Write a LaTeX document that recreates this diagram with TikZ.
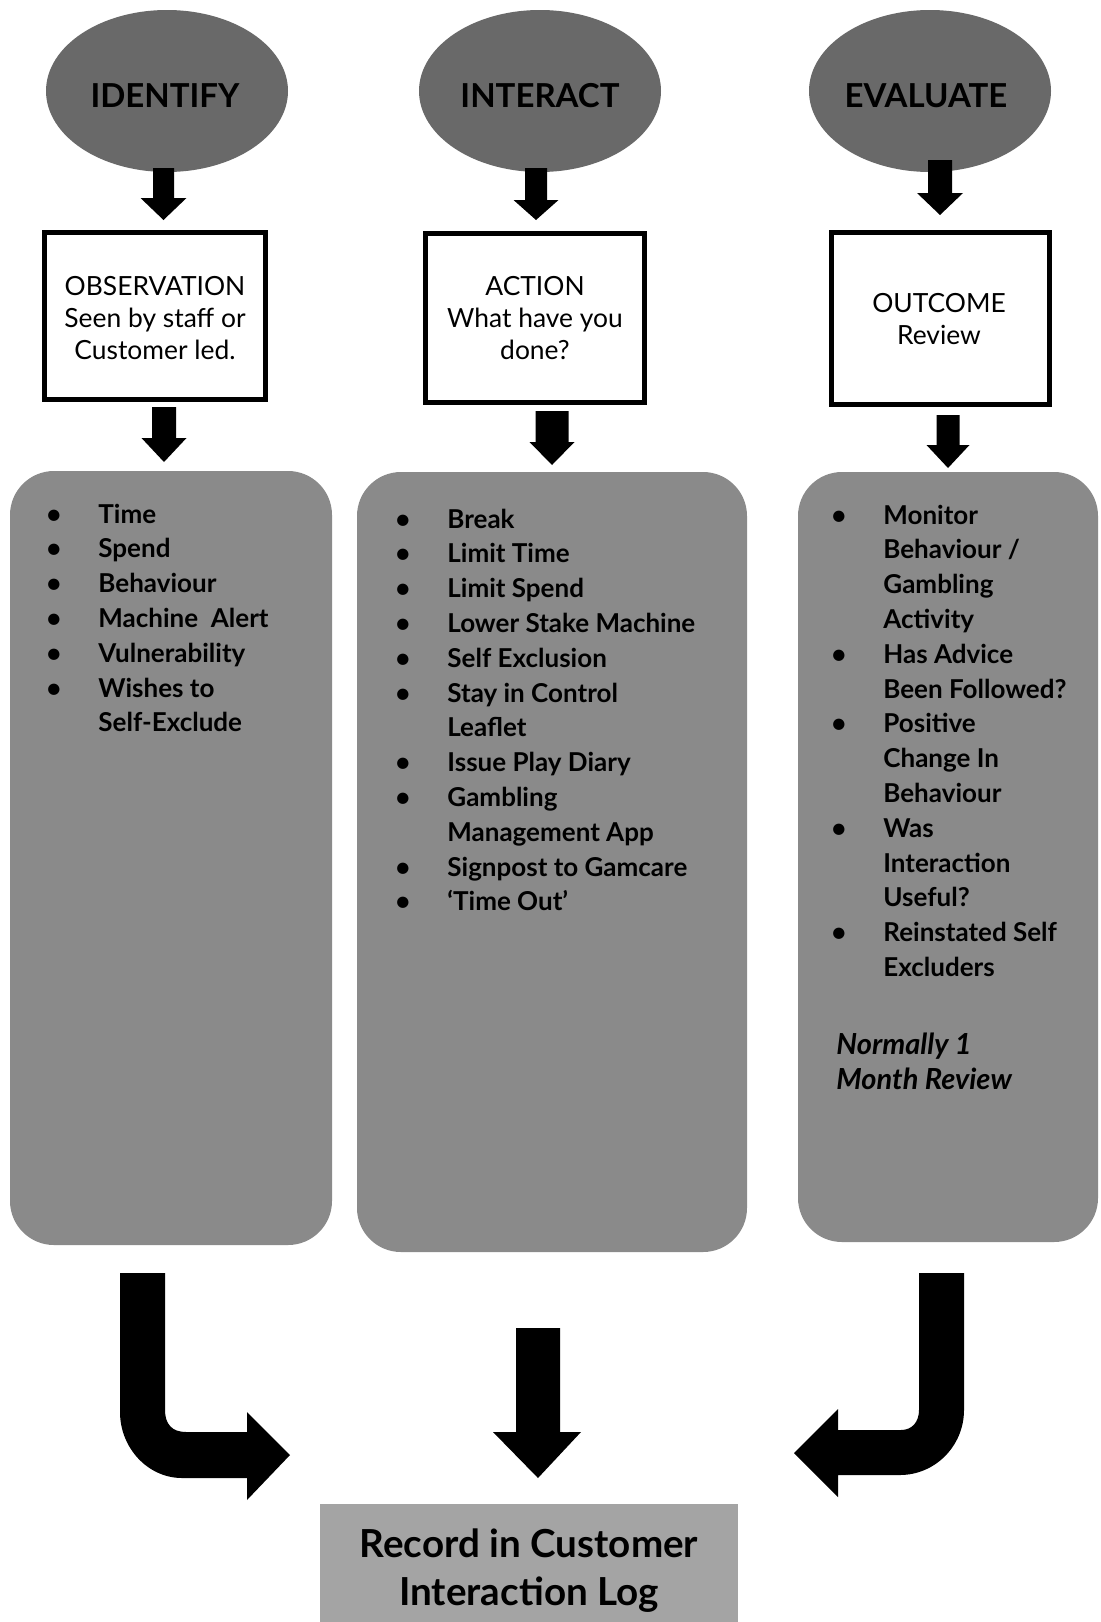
\documentclass[tikz,border=0pt]{standalone}
\usepackage{fontspec}
\setmainfont{Lato}
\usepackage{array}
\usetikzlibrary{shapes.geometric}
\definecolor{ellgray}{RGB}{105,105,105}
\definecolor{boxgray}{RGB}{138,138,138}
\definecolor{recgray}{RGB}{164,164,164}
% cx, shaft half width, head half width, y top, y head, y tip
\newcommand\blockdown[6]{%
  \fill[black] (#1-#2,#4) -- (#1+#2,#4) -- (#1+#2,#5) -- (#1+#3,#5) -- (#1,#6) -- (#1-#3,#5) -- (#1-#2,#5) -- cycle;}
\newcommand\bul{\hspace*{-3.5pt}\textbullet}
\begin{document}
\begin{tikzpicture}[x=0.5pt,y=-0.5pt,
  ellbox/.style={ellipse, fill=ellgray, inner sep=0pt, minimum width=121pt, minimum height=81pt},
  elltext/.style={anchor=base, inner sep=0pt, font=\fontsize{16.5}{20}\selectfont\bfseries},
  wbox/.style={draw=black, line width=2.5pt, fill=white, inner sep=0pt},
  wtext/.style={anchor=base, inner sep=0pt, font=\fontsize{13.2}{16}\selectfont},
  gbox/.style={fill=boxgray, rounded corners=22pt, inner sep=0pt},
  listtext/.style={anchor=base west, inner sep=0pt, font=\fontsize{13}{17.4}\selectfont\bfseries},
  rectext/.style={anchor=base, inner sep=0pt, font=\fontsize{19.3}{24}\selectfont\bfseries}
]
\useasboundingbox (0,0) rectangle (1100,1622);
\fill[white] (0,0) rectangle (1100,1622);

% ellipses
\node[ellbox] (e1) at (167,91) {};
\node[ellbox] (e2) at (540,91) {};
\node[ellbox] (e3) at (930,91) {};
\node[elltext] (t1) at (165,107) {IDENTIFY};
\node[elltext] (t2) at (540,107) {INTERACT};
\node[elltext] (t3) at (926,107) {EVALUATE};

% white boxes
\node[wbox, minimum width=110.5pt, minimum height=83.5pt] (b1) at (155,316) {};
\node[wbox, minimum width=109.5pt, minimum height=84.5pt] (b2) at (535,318) {};
\node[wbox, minimum width=109pt, minimum height=86pt] (b3) at (940.5,318.5) {};
\node[wtext] (bt1) at (155,295) {\begin{tabular}[t]{@{}c@{}}OBSERVATION\\Seen by staff or\\Customer led.\end{tabular}};
\node[wtext] (bt2) at (535,295) {\begin{tabular}[t]{@{}c@{}}ACTION\\What have you\\done?\end{tabular}};
\node[wtext] (bt3) at (939,312) {\begin{tabular}[t]{@{}c@{}}OUTCOME\\Review\end{tabular}};

% arrows top rows
\blockdown{163.5}{10.5}{23}{168}{198}{220}
\blockdown{536}{11}{22.5}{168}{200}{220}
\blockdown{940}{12}{23}{160}{193}{215}
\blockdown{164}{12}{22.5}{407}{438}{462}
\blockdown{552}{16.5}{22.5}{411}{442}{465}
\blockdown{948}{11.5}{21.5}{415}{445}{468}

% gray rounded boxes
\node[gbox, minimum width=161pt, minimum height=387pt] (g1) at (171,858) {};
\node[gbox, minimum width=195pt, minimum height=390pt] (g2) at (552,862) {};
\node[gbox, minimum width=150pt, minimum height=385pt] (g3) at (948,857) {};

\node[listtext] (l1) at (53,523) {\begin{tabular}[t]{@{}p{22.5pt}@{}l@{}}
\bul & Time\\
\bul & Spend\\
\bul & Behaviour\\
\bul & Machine\ \ Alert\\
\bul & Vulnerability\\
\bul & Wishes to\\
 & Self-Exclude
\end{tabular}};

\node[listtext] (l2) at (402,528) {\begin{tabular}[t]{@{}p{22.5pt}@{}l@{}}
\bul & Break\\
\bul & Limit Time\\
\bul & Limit Spend\\
\bul & Lower Stake Machine\\
\bul & Self Exclusion\\
\bul & Stay in Control\\
 & Leaflet\\
\bul & Issue Play Diary\\
\bul & Gambling\\
 & Management App\\
\bul & Signpost to Gamcare\\
\bul & `Time Out'
\end{tabular}};

\node[listtext] (l3) at (838,524) {\begin{tabular}[t]{@{}p{22.5pt}@{}l@{}}
\bul & Monitor\\
 & Behaviour /\\
 & Gambling\\
 & Activity\\
\bul & Has Advice\\
 & Been Followed?\\
\bul & Positive\\
 & Change In\\
 & Behaviour\\
\bul & Was\\
 & Interaction\\
 & Useful?\\
\bul & Reinstated Self\\
 & Excluders
\end{tabular}};
\node[anchor=base west, inner sep=0pt, font=\fontsize{14.5}{17.5}\selectfont\bfseries\itshape] (l4) at (836,1054) {\begin{tabular}[t]{@{}l@{}}Normally 1\\Month Review\end{tabular}};

% bottom arrows
\fill[black] (120,1273) -- (165,1273) -- (165,1410) .. controls (165,1424) and (172,1432) .. (186,1432)
  -- (247,1432) -- (247,1412) -- (290,1455) -- (247,1500) -- (247,1478) -- (182,1478)
  .. controls (148,1478) and (120,1448) .. (120,1412) -- cycle;
\fill[black] (516,1328) -- (560,1328) -- (560,1432) -- (581,1432) -- (538,1478) -- (493,1432) -- (516,1432) -- cycle;
\fill[black] (919,1273) -- (964,1273) -- (964,1410) .. controls (964,1446) and (935,1475) .. (900,1475)
  -- (838,1475) -- (838,1497) -- (794,1453) -- (838,1409) -- (838,1430) -- (901,1430)
  .. controls (912,1430) and (919,1422) .. (919,1410) -- cycle;

% record box
\node[fill=recgray, inner sep=0pt, minimum width=209pt, minimum height=59pt] (rec) at (529,1563) {};
\node[rectext] (rect) at (529,1557) {\begin{tabular}[t]{@{}c@{}}Record in Customer\\Interaction Log\end{tabular}};
\end{tikzpicture}
\end{document}
